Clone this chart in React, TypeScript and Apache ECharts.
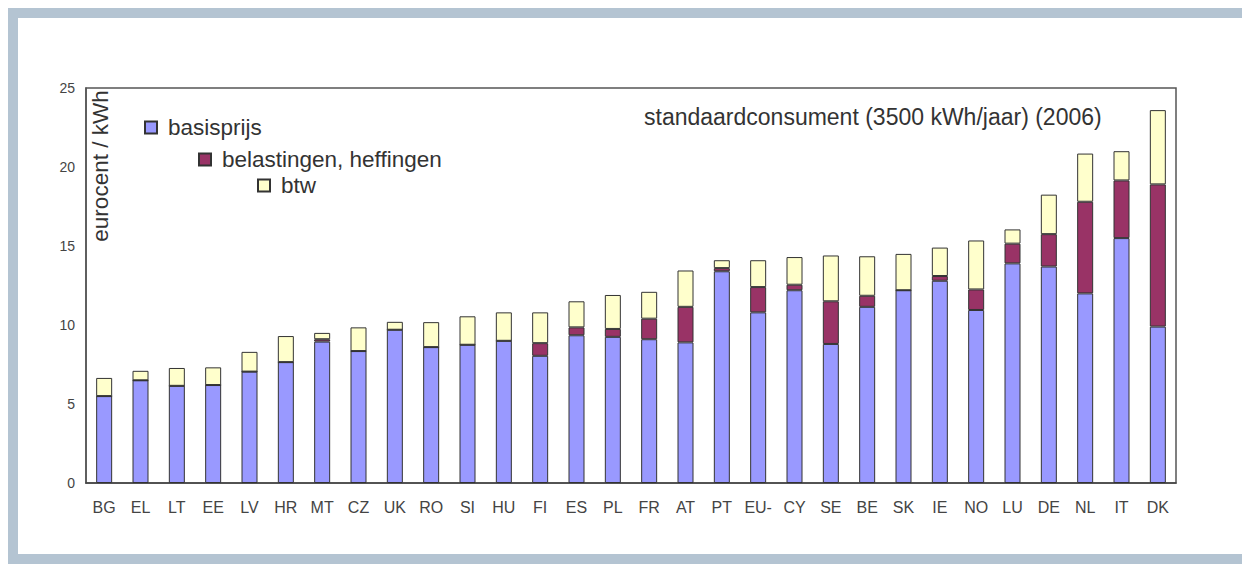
import React, { useEffect, useRef } from "react";
import * as echarts from "echarts";

const categories = ["BG","EL","LT","EE","LV","HR","MT","CZ","UK","RO","SI","HU","FI","ES","PL","FR","AT","PT","EU-","CY","SE","BE","SK","IE","NO","LU","DE","NL","IT","DK"];
const basisprijs = [5.5,6.5,6.15,6.2,7.05,7.65,8.95,8.35,9.7,8.6,8.75,9.0,8.05,9.35,9.25,9.1,8.9,13.4,10.8,12.2,8.8,11.15,12.2,12.8,10.95,13.9,13.7,12.0,15.5,9.9];
const belastingen = [0,0,0,0,0,0,0.15,0,0,0,0,0,0.8,0.5,0.5,1.3,2.25,0.2,1.6,0.35,2.7,0.7,0,0.3,1.3,1.25,2.05,5.8,3.65,9.0];
const btw = [1.15,0.6,1.13,1.12,1.25,1.65,0.4,1.5,0.5,1.58,1.8,1.8,1.95,1.65,2.15,1.7,2.3,0.5,1.7,1.75,2.9,2.5,2.3,1.8,3.1,0.9,2.5,3.05,1.85,4.7];
const yTicks = [0, 5, 10, 15, 20, 25];

const FONT = "Liberation Sans, Arial, sans-serif";
const TXT = "#333";

export default function App() {
  const ref = useRef<HTMLDivElement>(null);
  useEffect(() => {
    if (!ref.current) return;
    const chart = echarts.init(ref.current, undefined, { renderer: "svg" });
    const barStyle = (color: string) => ({ color, borderColor: "#333", borderWidth: 1 });
    const legendBase = {
      orient: "horizontal" as const,
      icon: "rect",
      itemWidth: 12,
      itemHeight: 12,
      padding: 0,
      textStyle: { fontSize: 22.5, color: TXT, fontFamily: FONT, padding: [0, 0, 0, 6] },
    };
    chart.setOption({
      animation: false,
      backgroundColor: "transparent",
      title: {
        text: "standaardconsument (3500 kWh/jaar) (2006)",
        left: 644,
        top: 105,
        padding: 0,
        textStyle: { fontSize: 23, fontWeight: "normal", color: TXT, fontFamily: FONT },
      },
      legend: [
        { ...legendBase, data: ["basisprijs"], left: 144, top: 116 },
        { ...legendBase, data: ["belastingen, heffingen"], left: 198, top: 148 },
        { ...legendBase, data: ["btw"], left: 257, top: 174 },
      ],
      grid: {
        left: 86,
        right: 66,
        top: 88,
        bottom: 81,
        show: true,
        borderColor: "#555",
        borderWidth: 1.5,
        containLabel: false,
      },
      xAxis: {
        type: "category",
        data: categories,
        axisLine: { show: true, lineStyle: { color: "#444", width: 1.5 } },
        axisTick: { show: false },
        axisLabel: { fontSize: 16, color: "#444", fontFamily: FONT, margin: 16, interval: 0 },
      },
      yAxis: {
        type: "value",
        min: yTicks[0],
        max: yTicks[yTicks.length - 1],
        interval: 5,
        splitLine: { show: false },
        axisLine: { show: true, lineStyle: { color: "#555", width: 1.5 } },
        axisTick: { show: false },
        axisLabel: { fontSize: 14, color: "#444", fontFamily: FONT, margin: 11 },
      },
      graphic: [
        {
          type: "text",
          x: 100,
          y: 166,
          rotation: Math.PI / 2,
          style: {
            text: "eurocent / kWh",
            fontSize: 22.5,
            fontFamily: FONT,
            fill: TXT,
            align: "center",
            verticalAlign: "middle",
          },
        },
      ],
      series: [
        { name: "basisprijs", type: "bar", stack: "t", barWidth: 16, data: basisprijs, itemStyle: barStyle("#9999ff") },
        { name: "belastingen, heffingen", type: "bar", stack: "t", barWidth: 16, data: belastingen, itemStyle: barStyle("#993366") },
        { name: "btw", type: "bar", stack: "t", barWidth: 16, data: btw, itemStyle: barStyle("#ffffcc") },
      ],
    });
    return () => chart.dispose();
  }, []);

  return (
    <div style={{ position: "fixed", left: 0, top: 0, width: 1242, height: 564, background: "#fff" }}>
      <div
        style={{
          position: "absolute",
          left: 8,
          top: 8,
          width: 1234,
          height: 556,
          boxSizing: "border-box",
          borderLeft: "10px solid #b4c4d2",
          borderTop: "10px solid #b4c4d2",
          borderBottom: "10px solid #b4c4d2",
        }}
      />
      <div ref={ref} style={{ position: "absolute", left: 0, top: 0, width: 1242, height: 564 }} />
    </div>
  );
}
